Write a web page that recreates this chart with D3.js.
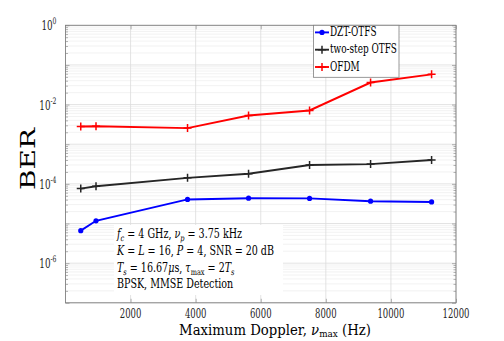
<!DOCTYPE html>
<html><head><meta charset="utf-8">
<script src="https://cdn.jsdelivr.net/npm/d3@7"></script>
<style>body{margin:0;background:#fff;} svg{display:block;} text{font-family:"DejaVu Serif",serif;}</style>
</head><body><svg id="c" width="504" height="341"></svg>
<script>
const dopplerHz = [468.75, 937.5, 3750, 5625, 7500, 9375, 11250];
const seriesNames = ["DZT-OTFS", "two-step OTFS", "OFDM"];
const berDZT = [6.6e-6, 1.17e-5, 4.05e-5, 4.35e-5, 4.3e-5, 3.65e-5, 3.5e-5];
const berTwoStep = [7.6e-5, 8.7e-5, 1.42e-4, 1.8e-4, 3.0e-4, 3.15e-4, 4.0e-4];
const berOFDM = [2.8e-3, 2.85e-3, 2.55e-3, 5.3e-3, 7.1e-3, 3.6e-2, 5.8e-2];
const xTicks = [2000, 4000, 6000, 8000, 10000, 12000];
const yTickExps = [0, -2, -4, -6];
const seriesColors = ["#0000ff", "#262626", "#ff0000"];
const seriesMarkers = ["dot", "plus", "plus"];

const svg = d3.select("#c");
const L = 65.5, R = 456, T = 25.3, B = 302.8;
const x = d3.scaleLinear().domain([0, 12000]).range([L, R]);
const y = d3.scaleLog().domain([1e-7, 1]).range([B, T]);

function squeeze(t, sx) {
  const ax = +t.attr("x"), ay = +t.attr("y");
  t.attr("transform", `translate(${ax},${ay}) scale(${sx},1) translate(${-ax},${-ay})`);
}
function scaleFor(t, w) { return w / t.node().getBBox().width; }

svg.append("rect").attr("x", L).attr("y", T).attr("width", R - L).attr("height", B - T).attr("fill", "#fff");

const minorVals = [];
for (let e = -7; e < 0; e++) for (let m = 2; m <= 9; m++) minorVals.push(m * Math.pow(10, e));
svg.append("g").selectAll("line").data(minorVals).join("line")
  .attr("x1", L).attr("x2", R).attr("y1", d => y(d)).attr("y2", d => y(d))
  .attr("stroke", "#ececec").attr("stroke-width", 0.7);
const majorVals = d3.range(-7, 1).map(e => Math.pow(10, e));
svg.append("g").selectAll("line").data(majorVals).join("line")
  .attr("x1", L).attr("x2", R).attr("y1", d => y(d)).attr("y2", d => y(d))
  .attr("stroke", "#dcdcdc").attr("stroke-width", 0.8);
svg.append("g").selectAll("line").data(xTicks).join("line")
  .attr("x1", d => x(d)).attr("x2", d => x(d)).attr("y1", T).attr("y2", B)
  .attr("stroke", "#dcdcdc").attr("stroke-width", 0.8);

const axL = d3.axisLeft(y).tickValues(majorVals.concat(minorVals)).tickSize(-4).tickFormat("");
const axR = d3.axisRight(y).tickValues(majorVals.concat(minorVals)).tickSize(-4).tickFormat("");
const axB = d3.axisBottom(x).tickValues(xTicks).tickSize(-4).tickFormat("");
const axT = d3.axisTop(x).tickValues(xTicks).tickSize(-4).tickFormat("");
function styleAx(g) { g.select(".domain").remove(); g.selectAll("line").attr("stroke", "#808080").attr("stroke-width", 0.6); }
svg.append("g").attr("transform", `translate(${L},0)`).call(axL).call(styleAx)
  .selectAll(".tick line").attr("x2", d => Math.abs(Math.log10(d) % 1) < 1e-9 ? 4 : 2.5);
svg.append("g").attr("transform", `translate(${R},0)`).call(axR).call(styleAx)
  .selectAll(".tick line").attr("x2", d => Math.abs(Math.log10(d) % 1) < 1e-9 ? -4 : -2.5);
svg.append("g").attr("transform", `translate(0,${B})`).call(axB).call(styleAx);
svg.append("g").attr("transform", `translate(0,${T})`).call(axT).call(styleAx);
svg.append("rect").attr("x", L).attr("y", T).attr("width", R - L).attr("height", B - T)
  .attr("fill", "none").attr("stroke", "#808080").attr("stroke-width", 0.9);

// tick labels
const xl = svg.append("g");
const xLabels = xTicks.map(t => xl.append("text").attr("x", x(t)).attr("y", 318.5).attr("text-anchor", "middle")
  .attr("font-size", 12).attr("fill", "#262626").text(t));
const tickSx = scaleFor(xLabels[xLabels.length - 1], 27);
xLabels.forEach(t => squeeze(t, tickSx));
yTickExps.forEach(e => {
  const t = svg.append("text").attr("x", L - 9).attr("y", y(Math.pow(10, e)) + 5).attr("text-anchor", "end")
    .attr("font-size", 13).attr("fill", "#262626");
  t.append("tspan").text("10");
  t.append("tspan").attr("dy", -6).attr("font-size", 9).text(e);
  squeeze(t, tickSx * 12 / 13 * 1.04);
});

// series
const allSeries = [berDZT, berTwoStep, berOFDM];
const line = d3.line().x((d, i) => x(dopplerHz[i])).y(d => y(d));
allSeries.forEach((vals, k) => {
  const g = svg.append("g");
  g.append("path").datum(vals).attr("d", line).attr("fill", "none")
    .attr("stroke", seriesColors[k]).attr("stroke-width", 1.9);
  vals.forEach((v, i) => {
    const cx = x(dopplerHz[i]), cy = y(v);
    if (seriesMarkers[k] === "dot") {
      g.append("circle").attr("cx", cx).attr("cy", cy).attr("r", 2.6).attr("fill", seriesColors[k]);
    } else {
      g.append("path").attr("d", `M${cx - 4},${cy}H${cx + 4}M${cx},${cy - 4}V${cy + 4}`)
        .attr("stroke", seriesColors[k]).attr("stroke-width", 1.5);
    }
  });
});

// legend
const lg = svg.append("g");
lg.append("rect").attr("x", 313.5).attr("y", 25.3).attr("width", 85.5).attr("height", 52)
  .attr("fill", "#fff").attr("stroke", "#808080").attr("stroke-width", 0.8);
const legTexts = seriesNames.map((n, k) => {
  const base = 36.2 + k * 17.3;
  const cy = base - 3.8;
  lg.append("line").attr("x1", 315).attr("x2", 329).attr("y1", cy).attr("y2", cy)
    .attr("stroke", seriesColors[k]).attr("stroke-width", 1.9);
  if (seriesMarkers[k] === "dot") lg.append("circle").attr("cx", 322).attr("cy", cy).attr("r", 2.6).attr("fill", seriesColors[k]);
  else lg.append("path").attr("d", `M318,${cy}H326M322,${cy - 4}V${cy + 4}`).attr("stroke", seriesColors[k]).attr("stroke-width", 1.5);
  return lg.append("text").attr("x", 330).attr("y", base).attr("font-size", 12).attr("fill", "#000").text(n);
});
const legS = scaleFor(legTexts[1], 67);
legTexts.forEach(t => squeeze(t, legS));

// annotation
const an = svg.append("g");
an.append("rect").attr("x", 114).attr("y", 225).attr("width", 169).attr("height", 70).attr("fill", "#fff");
const fs = 12.3, ss = 8.5, ax0 = 117;
let t1 = an.append("text").attr("x", ax0).attr("y", 238.5).attr("font-size", fs);
t1.append("tspan").attr("font-style", "italic").text("f");
t1.append("tspan").attr("dy", 3).attr("font-size", ss).attr("font-style", "italic").text("c");
t1.append("tspan").attr("dy", -3).text(" = 4 GHz, ");
t1.append("tspan").attr("font-style", "italic").text("ν");
t1.append("tspan").attr("dy", 3).attr("font-size", ss).attr("font-style", "italic").text("p");
t1.append("tspan").attr("dy", -3).text(" = 3.75 kHz");
let t2 = an.append("text").attr("x", ax0).attr("y", 255).attr("font-size", fs);
t2.append("tspan").attr("font-style", "italic").text("K");
t2.append("tspan").text(" = ");
t2.append("tspan").attr("font-style", "italic").text("L");
t2.append("tspan").text(" = 16, ");
t2.append("tspan").attr("font-style", "italic").text("P");
t2.append("tspan").text(" = 4, SNR = 20 dB");
let t3 = an.append("text").attr("x", ax0).attr("y", 271.7).attr("font-size", fs);
t3.append("tspan").attr("font-style", "italic").text("T");
t3.append("tspan").attr("dy", 3).attr("font-size", ss).attr("font-style", "italic").text("s");
t3.append("tspan").attr("dy", -3).text(" = 16.67");
t3.append("tspan").attr("font-style", "italic").text("μ");
t3.append("tspan").text("s, ");
t3.append("tspan").attr("font-style", "italic").text("τ");
t3.append("tspan").attr("dy", 3).attr("font-size", ss).text("max");
t3.append("tspan").attr("dy", -3).text(" = 2");
t3.append("tspan").attr("font-style", "italic").text("T");
t3.append("tspan").attr("dy", 3).attr("font-size", ss).attr("font-style", "italic").text("s");
let t4 = an.append("text").attr("x", ax0).attr("y", 287.7).attr("font-size", fs).text("BPSK, MMSE Detection");
const annS = scaleFor(t2, 158);
[t1, t2, t3, t4].forEach(t => squeeze(t, annS));

// axis titles
svg.append("text").attr("transform", `translate(35,159) rotate(-90) scale(1,0.7)`).attr("text-anchor", "middle")
  .attr("font-size", 28).attr("fill", "#000").text("BER");
const xt = svg.append("text").attr("x", 275).attr("y", 335).attr("text-anchor", "middle")
  .attr("font-size", 15).attr("fill", "#000");
xt.append("tspan").text("Maximum Doppler, ");
xt.append("tspan").attr("font-style", "italic").text("ν");
xt.append("tspan").attr("dy", 2.5).attr("font-size", 10).text("max");
xt.append("tspan").attr("dy", -2.5).text(" (Hz)");
squeeze(xt, scaleFor(xt, 192));
</script></body></html>
